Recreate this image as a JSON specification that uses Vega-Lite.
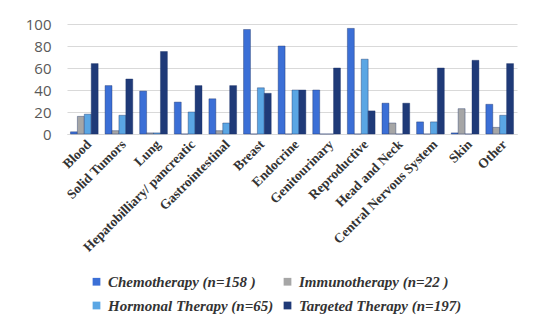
{
  "$schema": "https://vega.github.io/schema/vega-lite/v6.json",
  "autosize": "none",
  "width": 450,
  "height": 110,
  "padding": {"left": 67, "top": 24, "right": 33, "bottom": 191},
  "background": "white",
  "data": {
    "values": [
      {"site": "Blood", "therapy": "Chemotherapy (n=158 )", "pct": 2},
      {"site": "Blood", "therapy": "Immunotherapy (n=22 )", "pct": 16},
      {"site": "Blood", "therapy": "Hormonal Therapy (n=65)", "pct": 18},
      {"site": "Blood", "therapy": "Targeted Therapy (n=197)", "pct": 64},
      {"site": "Solid Tumors", "therapy": "Chemotherapy (n=158 )", "pct": 44},
      {"site": "Solid Tumors", "therapy": "Immunotherapy (n=22 )", "pct": 3},
      {"site": "Solid Tumors", "therapy": "Hormonal Therapy (n=65)", "pct": 17},
      {"site": "Solid Tumors", "therapy": "Targeted Therapy (n=197)", "pct": 50},
      {"site": "Lung", "therapy": "Chemotherapy (n=158 )", "pct": 39},
      {"site": "Lung", "therapy": "Immunotherapy (n=22 )", "pct": 1},
      {"site": "Lung", "therapy": "Hormonal Therapy (n=65)", "pct": 1},
      {"site": "Lung", "therapy": "Targeted Therapy (n=197)", "pct": 75},
      {"site": "Hepatobilliary/ pancreatic", "therapy": "Chemotherapy (n=158 )", "pct": 29},
      {"site": "Hepatobilliary/ pancreatic", "therapy": "Immunotherapy (n=22 )", "pct": 0},
      {"site": "Hepatobilliary/ pancreatic", "therapy": "Hormonal Therapy (n=65)", "pct": 20},
      {"site": "Hepatobilliary/ pancreatic", "therapy": "Targeted Therapy (n=197)", "pct": 44},
      {"site": "Gastrointestinal", "therapy": "Chemotherapy (n=158 )", "pct": 32},
      {"site": "Gastrointestinal", "therapy": "Immunotherapy (n=22 )", "pct": 3},
      {"site": "Gastrointestinal", "therapy": "Hormonal Therapy (n=65)", "pct": 10},
      {"site": "Gastrointestinal", "therapy": "Targeted Therapy (n=197)", "pct": 44},
      {"site": "Breast", "therapy": "Chemotherapy (n=158 )", "pct": 95},
      {"site": "Breast", "therapy": "Immunotherapy (n=22 )", "pct": 0},
      {"site": "Breast", "therapy": "Hormonal Therapy (n=65)", "pct": 42},
      {"site": "Breast", "therapy": "Targeted Therapy (n=197)", "pct": 37},
      {"site": "Endocrine", "therapy": "Chemotherapy (n=158 )", "pct": 80},
      {"site": "Endocrine", "therapy": "Immunotherapy (n=22 )", "pct": 0},
      {"site": "Endocrine", "therapy": "Hormonal Therapy (n=65)", "pct": 40},
      {"site": "Endocrine", "therapy": "Targeted Therapy (n=197)", "pct": 40},
      {"site": "Genitourinary", "therapy": "Chemotherapy (n=158 )", "pct": 40},
      {"site": "Genitourinary", "therapy": "Immunotherapy (n=22 )", "pct": 0},
      {"site": "Genitourinary", "therapy": "Hormonal Therapy (n=65)", "pct": 0},
      {"site": "Genitourinary", "therapy": "Targeted Therapy (n=197)", "pct": 60},
      {"site": "Reproductive", "therapy": "Chemotherapy (n=158 )", "pct": 96},
      {"site": "Reproductive", "therapy": "Immunotherapy (n=22 )", "pct": 0},
      {"site": "Reproductive", "therapy": "Hormonal Therapy (n=65)", "pct": 68},
      {"site": "Reproductive", "therapy": "Targeted Therapy (n=197)", "pct": 21},
      {"site": "Head and Neck", "therapy": "Chemotherapy (n=158 )", "pct": 28},
      {"site": "Head and Neck", "therapy": "Immunotherapy (n=22 )", "pct": 10},
      {"site": "Head and Neck", "therapy": "Hormonal Therapy (n=65)", "pct": 0},
      {"site": "Head and Neck", "therapy": "Targeted Therapy (n=197)", "pct": 28},
      {"site": "Central Nervous System", "therapy": "Chemotherapy (n=158 )", "pct": 11},
      {"site": "Central Nervous System", "therapy": "Immunotherapy (n=22 )", "pct": 0},
      {"site": "Central Nervous System", "therapy": "Hormonal Therapy (n=65)", "pct": 11},
      {"site": "Central Nervous System", "therapy": "Targeted Therapy (n=197)", "pct": 60},
      {"site": "Skin", "therapy": "Chemotherapy (n=158 )", "pct": 1},
      {"site": "Skin", "therapy": "Immunotherapy (n=22 )", "pct": 23},
      {"site": "Skin", "therapy": "Hormonal Therapy (n=65)", "pct": 0},
      {"site": "Skin", "therapy": "Targeted Therapy (n=197)", "pct": 67},
      {"site": "Other", "therapy": "Chemotherapy (n=158 )", "pct": 27},
      {"site": "Other", "therapy": "Immunotherapy (n=22 )", "pct": 6},
      {"site": "Other", "therapy": "Hormonal Therapy (n=65)", "pct": 17},
      {"site": "Other", "therapy": "Targeted Therapy (n=197)", "pct": 64}
    ]
  },
  "mark": {"type": "bar", "stroke": "#1a2f66", "strokeWidth": 0.4},
  "encoding": {
    "x": {
      "field": "site", "type": "nominal", "sort": null,
      "scale": {"paddingInner": 0.2, "paddingOuter": 0.1},
      "axis": {
        "title": null, "labelAngle": -45, "labelFont": "Liberation Serif", "labelFontWeight": "bold",
        "labelFontSize": 13.5, "labelColor": "#333333", "ticks": false, "domain": true,
        "domainColor": "#d9d9d9", "labelPadding": 3, "labelLimit": 200
      }
    },
    "xOffset": {"field": "therapy", "type": "nominal", "sort": null, "scale": {"paddingInner": 0}},
    "y": {
      "field": "pct", "type": "quantitative",
      "scale": {"domain": [0, 100]},
      "axis": {
        "title": null, "values": [0, 20, 40, 60, 80, 100], "domain": false, "ticks": false,
        "labelFont": "Open Sans", "labelFontSize": 15, "labelColor": "#595959", "labelPadding": 16,
        "gridColor": "#d9d9d9"
      }
    },
    "color": {
      "field": "therapy", "type": "nominal", "sort": null,
      "scale": {
        "domain": ["Chemotherapy (n=158 )", "Immunotherapy (n=22 )", "Hormonal Therapy (n=65)", "Targeted Therapy (n=197)"],
        "range": ["#3b6fd6", "#a6a6a6", "#5aa6e4", "#1f3a78"]
      },
      "legend": {
        "title": null, "orient": "none", "legendX": 22, "legendY": 250, "columns": 2,
        "direction": "horizontal",
        "symbolType": "square", "symbolSize": 60, "symbolStrokeWidth": 0,
        "labelFont": "Liberation Serif", "labelFontStyle": "italic", "labelFontWeight": "bold",
        "labelFontSize": 15, "labelColor": "#333333", "rowPadding": 8, "columnPadding": 6,
        "labelOffset": 4, "labelLimit": 400
      }
    }
  },
  "config": {"view": {"stroke": null}}
}
